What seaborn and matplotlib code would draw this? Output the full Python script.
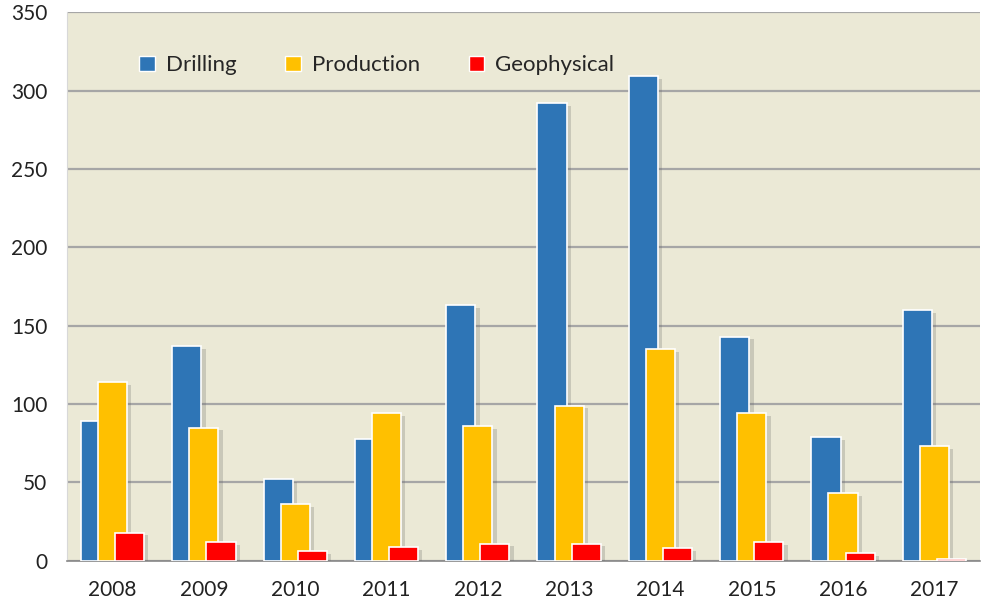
import matplotlib
matplotlib.use("Agg")
import matplotlib.pyplot as plt
import matplotlib.patheffects as pe
import pandas as pd
import seaborn as sns

years = ["2008", "2009", "2010", "2011", "2012", "2013", "2014", "2015", "2016", "2017"]
drilling = [89, 137, 52, 78, 163, 292, 309, 143, 79, 160]
production = [114, 85, 36, 94, 86, 99, 135, 94, 43, 73]
geophysical = [18, 12, 6, 9, 11, 11, 8, 12, 5, 1]
series = ["Drilling", "Production", "Geophysical"]
colors = ["#2E75B6", "#FFC000", "#FF0000"]

df = pd.DataFrame({"Year": years, "Drilling": drilling,
                   "Production": production, "Geophysical": geophysical})
long_df = df.melt(id_vars="Year", var_name="Type", value_name="Count")

sns.set_style("white")
plt.rcParams["font.family"] = ["Lato", "DejaVu Sans"]

fig, ax = plt.subplots(figsize=(9.84, 6.07), dpi=100)
fig.subplots_adjust(left=0.068, right=0.996, top=0.98, bottom=0.076)
ax.set_facecolor("#EBE9D6")

sns.barplot(data=long_df, x="Year", y="Count", hue="Type", hue_order=series,
            palette=colors, width=0.56, saturation=1, ax=ax, zorder=3)

# widen bars so they overlap like the original, soft shadow to the right
shadow = [pe.SimplePatchShadow(offset=(3, -2), shadow_rgbFace="#666666", alpha=0.25),
          pe.Normal()]
for p in ax.patches:
    if p.get_width() == 0:
        continue
    c = p.get_x() + p.get_width() / 2
    p.set_width(0.32)
    p.set_x(c - 0.16)
    p.set_edgecolor("white")
    p.set_linewidth(1.2)
    p.set_path_effects(shadow)

ax.set_ylim(0, 350)
ax.set_xlim(-0.5, len(years) - 0.5)
ax.set_yticks(range(0, 351, 50))
ax.yaxis.grid(True, color="#A6A6A6", linewidth=1.6, zorder=0)
ax.set_axisbelow(True)

ax.set_xticks([i - 0.5 for i in range(len(years) + 1)], minor=True)
ax.tick_params(axis="x", which="minor", length=6, width=1, color="#888888")
ax.tick_params(axis="x", which="major", length=0, labelsize=15, pad=14, colors="#222222")
ax.tick_params(axis="y", length=0, labelsize=15, pad=14, colors="#222222")
ax.set_xlabel("")
ax.set_ylabel("")

for s in ["top", "right"]:
    ax.spines[s].set_visible(False)
ax.spines["left"].set_color("#D8D8D8")
ax.spines["bottom"].set_color("#888888")
ax.spines["bottom"].set_linewidth(1.2)

leg = ax.legend(loc="upper left", bbox_to_anchor=(0.057, 0.958), ncol=3, frameon=False,
                fontsize=16, handlelength=0.7, handleheight=0.7, columnspacing=2.2,
                handletextpad=0.5)
for h in leg.legend_handles:
    h.set_edgecolor("white")
    h.set_path_effects([])

fig.savefig("out.png", dpi=100)
